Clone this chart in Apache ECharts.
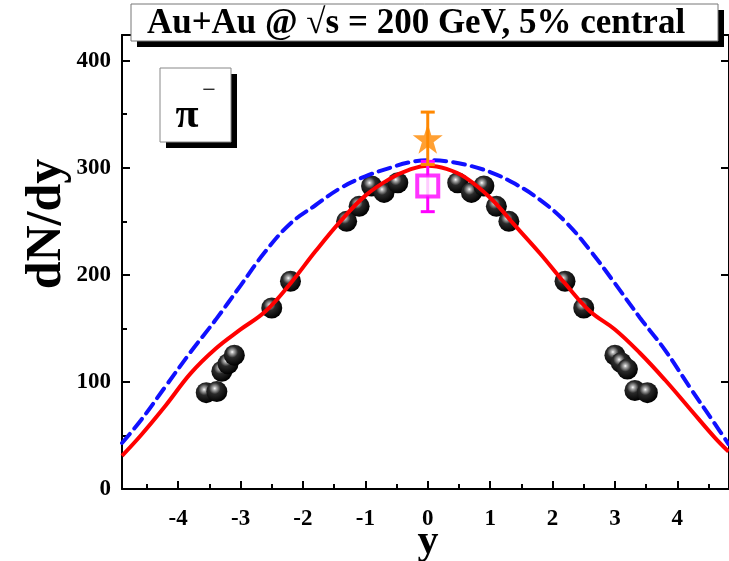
<!DOCTYPE html>
<html>
<head>
<meta charset="utf-8">
<script src="https://cdn.jsdelivr.net/npm/echarts@6/dist/echarts.min.js"></script>
<style>
  html, body { margin: 0; padding: 0; background: #fff; }
  #chart { width: 729px; height: 561px; }
</style>
</head>
<body>
<div id="chart"></div>
<script>
// Rapidity grid shared by both model curves
const curveY = [-4.9, -4.6, -4.2, -3.8, -3.4, -3.0, -2.6, -2.2, -1.8, -1.4, -1.0, -0.6, -0.3, 0, 0.3, 0.6, 1.0, 1.4, 1.8, 2.2, 2.6, 3.0, 3.4, 3.8, 4.2, 4.6, 4.82];
// Solid red model curve, dN/dy
const redModel = [31, 50, 78, 108, 131, 149, 166, 192, 222, 250, 274, 290, 298, 302, 299, 291, 272, 246, 220, 192, 166, 149, 127, 102, 75, 48, 35];
// Dashed blue model curve, dN/dy
const blueModel = [43, 64, 96, 128, 158, 190, 222, 248, 265, 281, 292, 300, 305, 307, 306, 303, 296, 285, 270, 250, 223, 192, 160, 130, 95, 61, 42];

// Measured pi- yields (rapidity, dN/dy)
const dataRap = [-3.55, -3.38, -3.3, -3.2, -3.1, -2.5, -2.2, -1.3, -1.1, -0.9, -0.7, -0.48, 0.48, 0.7, 0.9, 1.1, 1.3, 2.2, 2.5, 3.0, 3.1, 3.2, 3.32, 3.52];
const dataYield = [90, 91, 110, 117, 125, 169, 194, 250, 264, 283, 277, 286, 286, 277, 283, 264, 250, 194, 169, 125, 118, 112, 92, 90];

// Mid-rapidity points with error ranges: [y, value, low, high]
const squarePoint = [0, 283, 259, 306];
const starPoint = [0, 327, 303, 352];

// Axis tick positions
const xMajor = [-4, -3, -2, -1, 0, 1, 2, 3, 4];
const xMinor = [-4.5, -3.5, -2.5, -1.5, -0.5, 0.5, 1.5, 2.5, 3.5, 4.5];
const yMajor = [0, 100, 200, 300, 400];
const yMinor = [50, 150, 250, 350];

const FONT = '"Liberation Serif", "Times New Roman", serif';
const X_MIN = -4.9, X_MAX = 4.828, Y_MIN = 0, Y_MAX = 424;

const pairs = (xs, ys) => xs.map((x, i) => [x, ys[i]]);

const sphere = {
  type: 'radial', x: 0.4, y: 0.35, r: 0.65,
  colorStops: [
    { offset: 0, color: '#ffffff' },
    { offset: 0.12, color: '#b4b4b4' },
    { offset: 0.42, color: '#2a2a2a' },
    { offset: 1, color: '#000000' }
  ]
};

function errorBar(color, width, capHalf) {
  return function (params, api) {
    const x = api.value(0);
    const top = api.coord([x, api.value(3)]);
    const bot = api.coord([x, api.value(2)]);
    const st = { stroke: color, lineWidth: width };
    return {
      type: 'group',
      children: [
        { type: 'line', shape: { x1: top[0], y1: top[1], x2: bot[0], y2: bot[1] }, style: st },
        { type: 'line', shape: { x1: top[0] - capHalf, y1: top[1], x2: top[0] + capHalf, y2: top[1] }, style: st },
        { type: 'line', shape: { x1: bot[0] - capHalf, y1: bot[1], x2: bot[0] + capHalf, y2: bot[1] }, style: st }
      ]
    };
  };
}

const axisLineStyle = { color: '#000', width: 2 };
const tickStyle = { width: 2, color: '#000' };
const labelStyle = { color: '#000', fontFamily: FONT, fontWeight: 'bold', fontSize: 23 };

const chart = echarts.init(document.getElementById('chart'), null, { renderer: 'canvas' });
chart.setOption({
  animation: false,
  backgroundColor: '#fff',
  grid: { left: 122, top: 35, width: 608, height: 454, containLabel: false },
  xAxis: [
    {
      type: 'value', position: 'bottom', min: X_MIN, max: X_MAX,
      axisLine: { onZero: false, lineStyle: axisLineStyle },
      axisTick: { inside: true, length: 8, lineStyle: tickStyle, customValues: xMajor },
      axisLabel: Object.assign({ customValues: xMajor, margin: 19 }, labelStyle),
      splitLine: { show: false }
    },
    {
      type: 'value', position: 'bottom', min: X_MIN, max: X_MAX,
      axisLine: { onZero: false, show: false },
      axisTick: { inside: true, length: 5, lineStyle: tickStyle, customValues: xMinor },
      axisLabel: { show: false },
      splitLine: { show: false }
    },
    {
      type: 'value', position: 'top', min: X_MIN, max: X_MAX,
      axisLine: { onZero: false, lineStyle: axisLineStyle },
      axisTick: { show: false }, axisLabel: { show: false }, splitLine: { show: false }
    }
  ],
  yAxis: [
    {
      type: 'value', position: 'left', min: Y_MIN, max: Y_MAX,
      axisLine: { show: true, onZero: false, lineStyle: axisLineStyle },
      axisTick: { show: true, inside: true, length: 8, lineStyle: tickStyle, customValues: yMajor },
      axisLabel: Object.assign({ customValues: yMajor, margin: 11 }, labelStyle),
      splitLine: { show: false }
    },
    {
      type: 'value', position: 'left', min: Y_MIN, max: Y_MAX,
      axisLine: { show: false, onZero: false },
      axisTick: { show: true, inside: true, length: 5, lineStyle: tickStyle, customValues: yMinor },
      axisLabel: { show: false }, splitLine: { show: false }
    },
    {
      type: 'value', position: 'right', min: Y_MIN, max: Y_MAX,
      axisLine: { show: true, onZero: false, lineStyle: axisLineStyle },
      axisTick: { show: true, inside: true, length: 8, lineStyle: tickStyle, customValues: yMajor },
      axisLabel: { show: false }, splitLine: { show: false }
    }
  ],
  series: [
    {
      type: 'scatter', name: 'data', z: 2,
      data: pairs(dataRap, dataYield),
      symbol: 'circle', symbolSize: 21,
      itemStyle: { color: sphere, opacity: 1 }
    },
    {
      type: 'line', name: 'dashed model', z: 3,
      data: pairs(curveY, blueModel),
      smooth: 0.4, showSymbol: false, symbol: 'none',
      lineStyle: { color: '#1010ff', width: 4, type: [12, 7], cap: 'round' }
    },
    {
      type: 'line', name: 'solid model', z: 4,
      data: pairs(curveY, redModel),
      smooth: 0.4, showSymbol: false, symbol: 'none',
      lineStyle: { color: '#ff0000', width: 4 }
    },
    {
      type: 'custom', z: 5,
      data: [squarePoint],
      renderItem: errorBar('#ff00ff', 3, 7)
    },
    {
      type: 'scatter', z: 6,
      data: [[squarePoint[0], squarePoint[1]]],
      symbol: 'rect', symbolSize: 21,
      itemStyle: { color: '#ffffff', borderColor: '#ff00ff', borderWidth: 4 }
    },
    {
      type: 'custom', z: 7,
      data: [starPoint],
      renderItem: errorBar('#ff8800', 3, 7)
    },
    {
      type: 'scatter', z: 8,
      data: [[starPoint[0], starPoint[1]]],
      symbol: 'path://M50,0 L61.8,35.1 L98.9,35.1 L69.1,56.7 L80.3,91.9 L50,70.2 L19.7,91.9 L30.9,56.7 L1.1,35.1 L38.2,35.1 Z',
      symbolSize: 30,
      itemStyle: { color: '#ff8800' }
    }
  ],
  graphic: [
    // Title box with drop shadow
    { type: 'rect', z: 100, shape: { x: 137, y: 10, width: 587, height: 37 }, style: { fill: '#000' } },
    { type: 'rect', z: 101, shape: { x: 131, y: 4, width: 587, height: 37 }, style: { fill: '#fff', stroke: '#777', lineWidth: 1 } },
    { type: 'text', z: 102, x: 416, y: 24,
      style: { text: 'Au+Au @ \u221As = 200 GeV, 5% central', font: 'bold 35px ' + FONT, fill: '#000', align: 'center', verticalAlign: 'middle' } },
    // Particle label box
    { type: 'rect', z: 100, shape: { x: 166, y: 74, width: 71, height: 74 }, style: { fill: '#000' } },
    { type: 'rect', z: 101, shape: { x: 160, y: 68, width: 71, height: 74 }, style: { fill: '#fff', stroke: '#888', lineWidth: 1 } },
    { type: 'text', z: 102, x: 187, y: 116,
      style: { text: '\u03C0', font: 'bold 42px ' + FONT, fill: '#000', align: 'center', verticalAlign: 'middle' } },
    { type: 'text', z: 102, x: 209, y: 91,
      style: { text: '\u2212', font: '24px ' + FONT, fill: '#000', align: 'center', verticalAlign: 'middle' } },
    // Axis titles
    { type: 'text', z: 50, x: 47, y: 224, rotation: Math.PI / 2,
      style: { text: 'dN/dy', font: 'bold 50px ' + FONT, fill: '#000', align: 'center', verticalAlign: 'middle' } },
    { type: 'text', z: 50, x: 428, y: 542,
      style: { text: 'y', font: 'bold 42px ' + FONT, fill: '#000', align: 'center', verticalAlign: 'middle' } }
  ]
});
</script>
</body>
</html>
